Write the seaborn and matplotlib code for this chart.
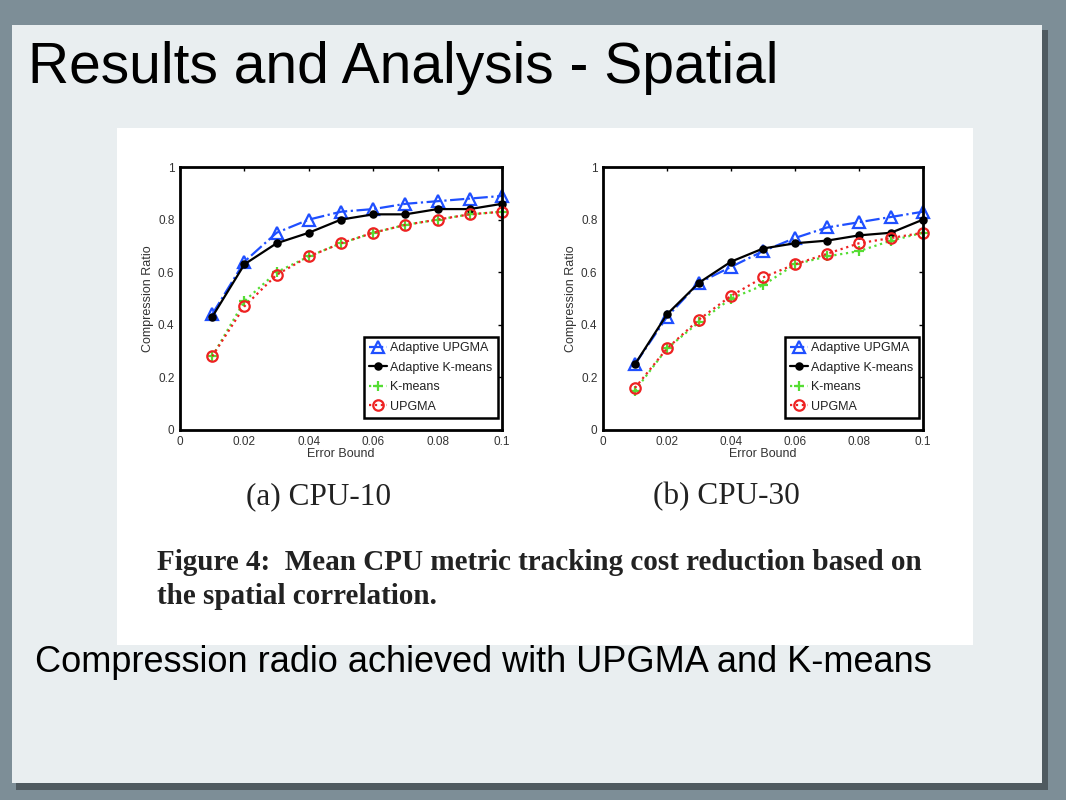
import matplotlib
matplotlib.use("Agg")
import matplotlib.pyplot as plt
from matplotlib.patches import Rectangle
import pandas as pd
import seaborn as sns

# ---- data ----
error_bound = [0.01, 0.02, 0.03, 0.04, 0.05, 0.06, 0.07, 0.08, 0.09, 0.10]

cpu10_adaptive_upgma = [0.44, 0.64, 0.75, 0.80, 0.83, 0.84, 0.86, 0.87, 0.88, 0.89]
cpu10_adaptive_kmeans = [0.43, 0.63, 0.71, 0.75, 0.80, 0.82, 0.82, 0.84, 0.84, 0.86]
cpu10_kmeans = [0.28, 0.49, 0.60, 0.66, 0.71, 0.75, 0.78, 0.80, 0.82, 0.83]
cpu10_upgma = [0.28, 0.47, 0.59, 0.66, 0.71, 0.75, 0.78, 0.80, 0.82, 0.83]

cpu30_adaptive_upgma = [0.25, 0.43, 0.56, 0.62, 0.68, 0.73, 0.77, 0.79, 0.81, 0.83]
cpu30_adaptive_kmeans = [0.25, 0.44, 0.56, 0.64, 0.69, 0.71, 0.72, 0.74, 0.75, 0.80]
cpu30_kmeans = [0.15, 0.31, 0.41, 0.50, 0.55, 0.63, 0.66, 0.68, 0.72, 0.75]
cpu30_upgma = [0.16, 0.31, 0.42, 0.51, 0.58, 0.63, 0.67, 0.71, 0.73, 0.75]

series_names = ["Adaptive UPGMA", "Adaptive K-means", "K-means", "UPGMA"]
x_ticks = [0, 0.02, 0.04, 0.06, 0.08, 0.1]
x_ticklabels = ["0", "0.02", "0.04", "0.06", "0.08", "0.1"]
y_ticks = [0, 0.2, 0.4, 0.6, 0.8, 1.0]
y_ticklabels = ["0", "0.2", "0.4", "0.6", "0.8", "1"]

# style per series: color, marker, linestyle, marker face
styles = {
    "Adaptive UPGMA": dict(color="#1f4fff", marker="^", linestyle="-.", mfc="none", ms=8),
    "Adaptive K-means": dict(color="black", marker="o", linestyle="-", mfc="black", ms=4.5),
    "K-means": dict(color="#55dd33", marker="+", linestyle=":", mfc="none", ms=7),
    "UPGMA": dict(color="#ee2222", marker="o", linestyle=":", mfc="none", ms=7.5),
}

sns.set_theme(style="white")
plt.rcParams["font.family"] = ["Liberation Sans", "DejaVu Sans"]

fig = plt.figure(figsize=(10.66, 8), dpi=100)
fig.patch.set_facecolor("#7d8e97")

W, H = 1066, 800


def px_rect(x0, y0, x1, y1, **kw):
    """Rectangle given in pixel coords (top-left origin)."""
    fig.patches.append(Rectangle((x0 / W, 1 - y1 / H), (x1 - x0) / W, (y1 - y0) / H,
                                 transform=fig.transFigure, figure=fig, **kw))


# slide panel with a soft shadow, then the pasted white figure
px_rect(16, 30, 1048, 790, facecolor="#4f5a60", edgecolor="none", zorder=-3)
px_rect(12, 25, 1042, 783, facecolor="#e9eef0", edgecolor="none", zorder=-2)
px_rect(117, 128, 973, 645, facecolor="white", edgecolor="none", zorder=-1)

fig.text(28 / W, 1 - 68 / H, "Results and Analysis - Spatial", fontsize=41,
         va="center", ha="left", color="black")
fig.text(35 / W, 1 - 662 / H, "Compression radio achieved with UPGMA and K-means",
         fontsize=26, va="center", ha="left", color="black")


def draw_panel(rect, values):
    ax = fig.add_axes(rect)
    ax.set_facecolor("white")
    df = pd.DataFrame({"error_bound": error_bound})
    for name, vals in zip(series_names, values):
        df[name] = vals
    for name in series_names:
        st = styles[name]
        sns.lineplot(data=df, x="error_bound", y=name, ax=ax, label=name,
                     color=st["color"], marker=st["marker"], linestyle=st["linestyle"],
                     markerfacecolor=st["mfc"], markeredgecolor=st["color"],
                     markersize=st["ms"], markeredgewidth=1.6, linewidth=1.6,
                     clip_on=False)
    ax.set_xlim(0, 0.1)
    ax.set_ylim(0, 1)
    ax.set_xticks(x_ticks)
    ax.set_xticklabels(x_ticklabels)
    ax.set_yticks(y_ticks)
    ax.set_yticklabels(y_ticklabels)
    ax.tick_params(direction="in", length=3, width=1, labelsize=8.5, colors="black",
                   labelcolor="#333333", top=True, right=True, pad=4)
    for sp in ax.spines.values():
        sp.set_color("black")
        sp.set_linewidth(2)
    ax.set_xlabel("Error Bound", fontsize=9, labelpad=0, color="#333333")
    ax.set_ylabel("Compression Ratio", fontsize=9, labelpad=3, color="#333333")
    leg = ax.legend(loc="lower right", fontsize=9, fancybox=False, framealpha=1,
                    edgecolor="black", borderpad=0.45, handlelength=1.4,
                    handletextpad=0.3, labelspacing=0.6, borderaxespad=0.3,
                    bbox_to_anchor=(1.0, 0.03))
    leg.get_frame().set_linewidth(1.8)
    for t in leg.get_texts():
        t.set_color("#222222")
    return ax


draw_panel([180 / W, 1 - 430 / H, 322 / W, 263 / H],
           [cpu10_adaptive_upgma, cpu10_adaptive_kmeans, cpu10_kmeans, cpu10_upgma])
draw_panel([603 / W, 1 - 430 / H, 320 / W, 263 / H],
           [cpu30_adaptive_upgma, cpu30_adaptive_kmeans, cpu30_kmeans, cpu30_upgma])

serif = ["Liberation Serif", "DejaVu Serif"]
fig.text(318 / W, 1 - 497 / H, "(a) CPU-10", fontsize=22.5, family=serif,
         ha="center", va="center", color="#222222")
fig.text(726 / W, 1 - 497 / H, "(b) CPU-30", fontsize=22.5, family=serif,
         ha="center", va="center", color="#222222")
fig.text(157 / W, 1 - 563 / H, "Figure 4:  Mean CPU metric tracking cost reduction based on",
         fontsize=21, family=serif, weight="bold", ha="left", va="center", color="#222222")
fig.text(157 / W, 1 - 597 / H, "the spatial correlation.",
         fontsize=21, family=serif, weight="bold", ha="left", va="center", color="#222222")

fig.savefig("out.png", dpi=100, facecolor=fig.get_facecolor())
